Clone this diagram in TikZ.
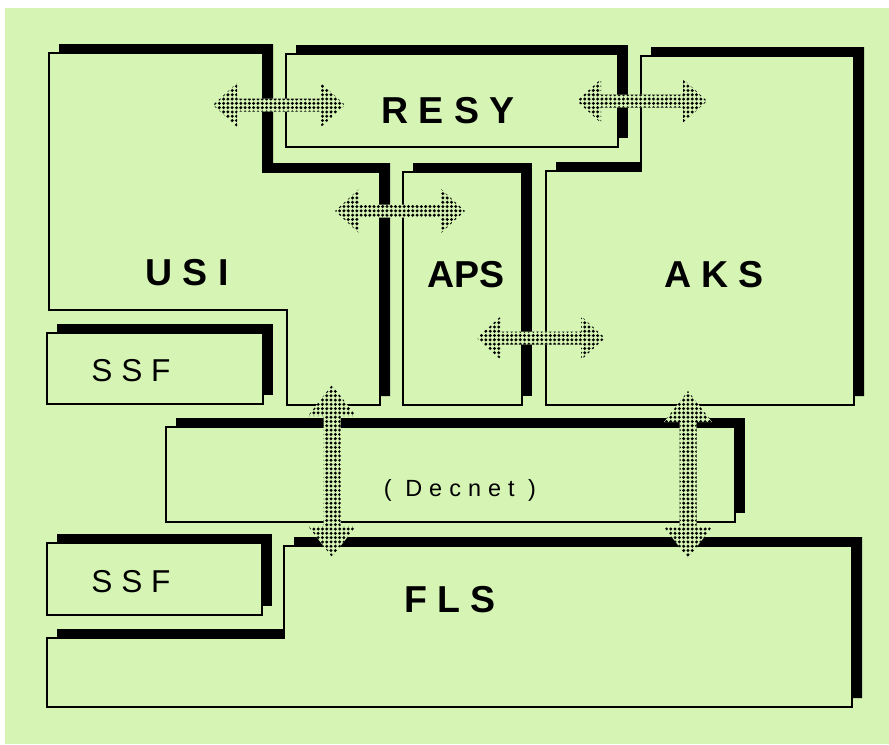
\documentclass[tikz,border=0pt]{standalone}
\usepackage{fontspec}
\setmainfont{Liberation Sans}
\usepackage{tikz}
\usetikzlibrary{calc, shadows, patterns}

\definecolor{paper}{RGB}{214,245,180}

% halftone screen of the links
\pgfdeclarepatternformonly{halftone}{\pgfqpoint{-1.6pt}{-1.6pt}}{\pgfqpoint{1.6pt}{1.6pt}}%
  {\pgfqpoint{3.67pt}{3.67pt}}{%
  \pgfpathcircle{\pgfqpoint{0pt}{0pt}}{1.4pt}\pgfusepath{fill}}

% block double arrows between two named tips
\newcommand{\hlink}[2]{%
  \path[link] (#1) -- ++(24,-22) -- ++(0,15.5) -- ($(#2)+(-24,-6.5)$) -- ++(0,-15.5)
    -- (#2) -- ++(-24,22) -- ++(0,-15.5) -- ($(#1)+(24,6.5)$) -- ++(0,15.5) -- cycle;}
\newcommand{\vlink}[2]{%
  \path[link] (#1) -- ++(24,31) -- ++(-15.5,0) -- ($(#2)+(8.5,-31)$) -- ++(15.5,0)
    -- (#2) -- ++(-24,-31) -- ++(15.5,0) -- ($(#1)+(-8.5,31)$) -- ++(-15.5,0) -- cycle;}

\begin{document}
\begin{tikzpicture}[
			x=0.3mm, y=-0.3mm,
			every node/.style={inner sep=0pt},
			box/.style={
				draw=black, line width=1.7pt, fill=paper,
				drop shadow={shadow xshift=3mm, shadow yshift=2.7mm,
					fill=black, opacity=1}
			},
			bigname/.style={font=\fontsize{32}{36}\selectfont\bfseries},
			smallname/.style={font=\fontsize{27}{30}\selectfont},
			netname/.style={font=\fontsize{20}{24}\selectfont\addfontfeatures{LetterSpace=30}},
			link/.style={
				fill=paper,
				postaction={pattern=halftone, pattern color=black}
			}
			]
			
			\useasboundingbox (0,0) rectangle (889,744);
			\fill[white] (0,0) rectangle (889,744);
			\fill[paper] (5,8) rectangle (889,744);
			
			% Upper blocks
			\path[box] (49,53) -- (263,53) -- (263,172) -- (380,172) -- (380,405)
			-- (287,405) -- (287,310) -- (49,310) -- cycle;
			\path[box] (286,54) rectangle (618,147);
			\path[box] (403,172) rectangle (522,405);
			\path[box] (546,171) -- (641,171) -- (641,56) -- (854,56) -- (854,405)
			-- (546,405) -- cycle;
			\path[box] (47,333) rectangle (263,404);
			
			% Network
			\path[box] (166,427) rectangle (735,522);
			
			% Lower blocks
			\path[box] (284,546) -- (852,546) -- (852,707) -- (47,707) -- (47,638)
			-- (284,638) -- cycle;
			\path[box] (47,543) rectangle (262,615);
			
			% Labels
			\node[bigname]   (usi)  at (187,273) {U S I};
			\node[bigname]   (resy) at (448,111) {R E S Y};
			\node[bigname]   (aps)  at (466,275) {APS};
			\node[bigname]   (aks)  at (714,275) {A K S};
			\node[smallname] (ssfa) at (131,371) {S S F};
			\node[netname]   (net)  at (460,490) {( Decnet )};
			\node[bigname]   (fls)  at (450,600) {F L S};
			\node[smallname] (ssfb) at (131,582) {S S F};
			
			% Arrow tips
			\coordinate (usi-r)  at (213,105);
			\coordinate (resy-u) at (345,105);
			\coordinate (resy-a) at (577,101);
			\coordinate (aks-r)  at (707,101);
			\coordinate (usi-p)  at (335,211);
			\coordinate (aps-u)  at (465,211);
			\coordinate (aps-k)  at (477,338);
			\coordinate (aks-p)  at (605,338);
			\coordinate (usi-n)  at (332,385);
			\coordinate (fls-u)  at (332,557);
			\coordinate (aks-n)  at (688,391);
			\coordinate (fls-k)  at (688,558);
			
			% Arrows
			\hlink{usi-r}{resy-u}
			\hlink{resy-a}{aks-r}
			\hlink{usi-p}{aps-u}
			\hlink{aps-k}{aks-p}
			\vlink{usi-n}{fls-u}
			\vlink{aks-n}{fls-k}
			
		\end{tikzpicture}
\end{document}
